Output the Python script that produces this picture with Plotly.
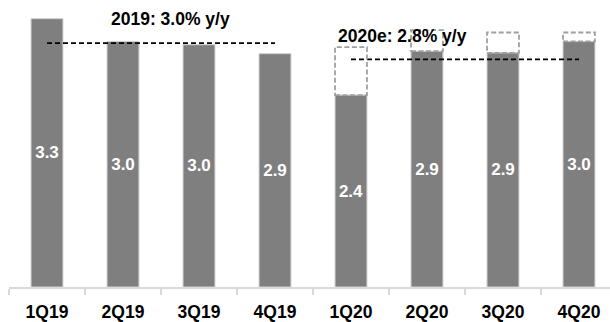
import plotly.graph_objects as go

# Quarterly growth, % y/y
quarters = ["1Q19", "2Q19", "3Q19", "4Q19", "1Q20", "2Q20", "3Q20", "4Q20"]
growth = [3.30, 3.02, 2.98, 2.87, 2.36, 2.90, 2.88, 3.02]

# Earlier forecasts for 2020 quarters (dashed outlines)
prior_quarters = ["1Q20", "2Q20", "3Q20", "4Q20"]
prior_forecast = [2.95, 3.16, 3.13, 3.13]

# Annual averages
annual_text = ["2019: 3.0% y/y", "2020e: 2.8% y/y"]
annual_value = [3.0, 2.8]
annual_start = ["1Q19", "1Q20"]
annual_end = ["4Q19", "4Q20"]

FONT = "Liberation Sans, Arial, sans-serif"
BAR = "#7f7f7f"
BAR_W = 0.42

fig = go.Figure()

fig.add_trace(go.Bar(
    x=quarters, y=growth, width=BAR_W,
    marker=dict(color=BAR, line=dict(color="#d0d0d0", width=1)),
    texttemplate="%{y:.1f}", textposition="inside", insidetextanchor="middle",
    textangle=0,
    textfont=dict(family=FONT, size=17, color="white", weight="bold"),
    hoverinfo="skip",
))

# dashed outline from current estimate up to the earlier forecast
shapes = []
for q, f in zip(prior_quarters, prior_forecast):
    i = quarters.index(q)
    shapes.append(dict(
        type="rect", xref="x", yref="y",
        x0=i - BAR_W / 2, x1=i + BAR_W / 2, y0=growth[i], y1=f,
        line=dict(color="#a0a0a0", width=1.8, dash="5px,2.5px"),
        fillcolor="rgba(0,0,0,0)", layer="above",
    ))

# annual average lines
for s, e, v in zip(annual_start, annual_end, annual_value):
    fig.add_trace(go.Scatter(
        x=[s, e], y=[v, v], mode="lines",
        line=dict(color="black", width=1.8, dash="5px,3px"),
        hoverinfo="skip",
    ))

annotations = []
label_pos = [(1.62, 3.30), (4.68, 3.09)]
for t, (ax, ay) in zip(annual_text, label_pos):
    annotations.append(dict(
        x=ax, y=ay, xref="x", yref="y", text=t, showarrow=False,
        font=dict(family=FONT, size=17.5, color="black", weight="bold"),
        xanchor="center", yanchor="middle",
    ))

fig.update_layout(
    width=610, height=322,
    margin=dict(l=9, r=0, t=0, b=35),
    paper_bgcolor="white", plot_bgcolor="white",
    showlegend=False,
    bargap=0.58,
    shapes=shapes,
    annotations=annotations,
    xaxis=dict(
        type="category", range=[-0.5, 7.408],
        showline=True, linecolor="#d9d9d9", linewidth=1.5,
        ticks="outside", tickson="boundaries", ticklen=6,
        tickcolor="#d9d9d9", tickwidth=1.5,
        tickfont=dict(family=FONT, size=17.5, color="black", weight="bold"),
        ticklabelstandoff=8,
        showgrid=False, zeroline=False,
    ),
    yaxis=dict(
        range=[0, 3.53], visible=False, showgrid=False, zeroline=False,
    ),
)

fig.write_html("out.html")
